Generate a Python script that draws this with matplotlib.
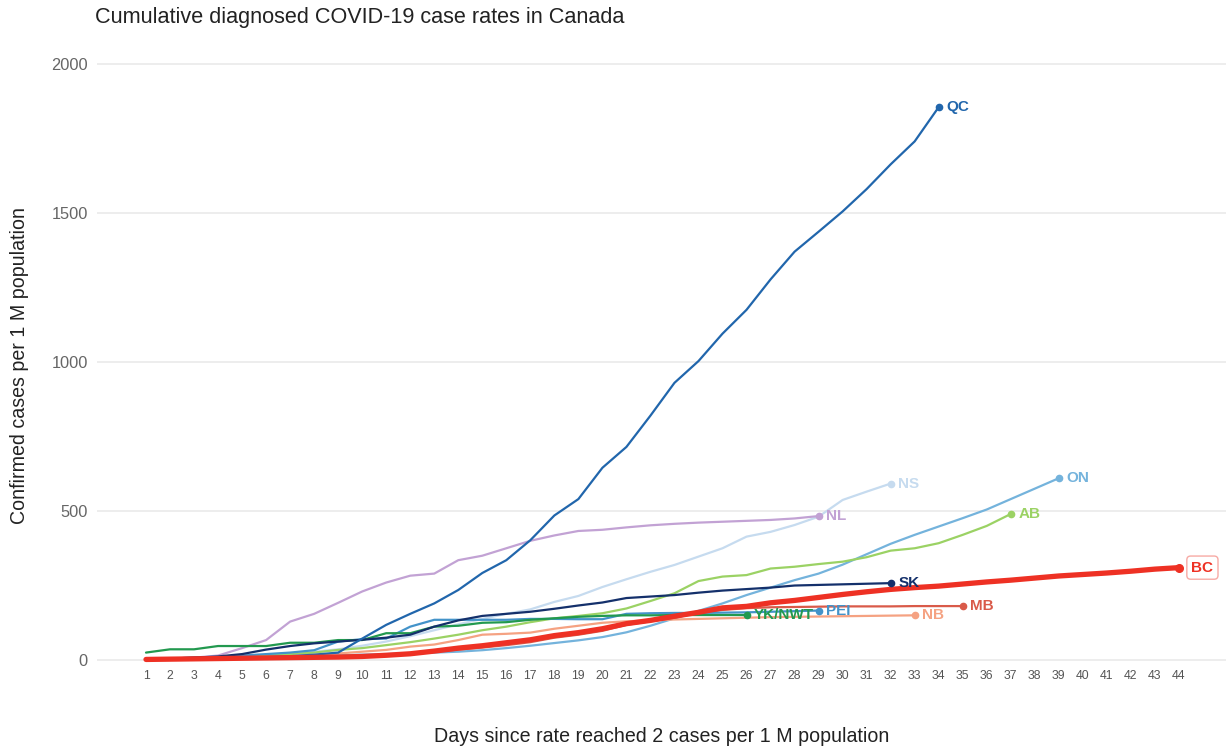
import matplotlib
matplotlib.use("Agg")
import matplotlib.pyplot as plt

plt.rcParams['font.family'] = ['Liberation Sans', 'DejaVu Sans']

# ---- data (cumulative cases per 1 M population, by day since 2 cases / 1 M) ----
QC = [3, 4, 5, 6, 8, 10, 13, 18, 25, 72, 118, 155, 190, 235, 292, 335, 402, 485, 540, 645,
      715, 820, 930, 1003, 1095, 1175, 1277, 1370, 1437, 1505, 1580, 1663, 1740, 1855]
NL = [3, 5, 8, 15, 40, 67, 129, 155, 192, 230, 260, 283, 290, 335, 350, 375, 400, 418, 433,
      437, 445, 452, 457, 461, 464, 467, 470, 475, 483]
NS = [3, 5, 7, 10, 13, 17, 22, 28, 36, 48, 62, 80, 100, 120, 138, 155, 170, 195, 215, 245,
      271, 296, 319, 347, 375, 414, 430, 453, 481, 537, 565, 592]
ON = [3, 4, 5, 6, 8, 10, 12, 14, 16, 18, 20, 22, 25, 28, 33, 40, 48, 57, 66, 77, 93, 115,
      140, 165, 190, 218, 243, 268, 290, 320, 355, 390, 420, 448, 476, 505, 540, 575, 610]
AB = [3, 5, 7, 10, 13, 16, 20, 25, 34, 40, 50, 60, 72, 85, 100, 112, 127, 140, 148, 157,
      173, 198, 224, 265, 280, 285, 307, 313, 322, 330, 345, 367, 375, 392, 420, 450, 490]
SK = [3, 5, 8, 12, 20, 35, 47, 56, 62, 68, 75, 85, 112, 133, 148, 155, 162, 172, 183, 193,
      208, 213, 218, 226, 233, 238, 243, 250, 252, 254, 256, 258]
MB = [2, 3, 4, 5, 6, 7, 8, 10, 12, 14, 17, 22, 28, 35, 42, 50, 60, 75, 85, 98, 118, 130,
      142, 158, 168, 174, 177, 178, 179, 180, 180, 180, 181, 181, 181]
NB = [3, 4, 5, 6, 8, 10, 13, 17, 22, 28, 34, 45, 52, 67, 85, 88, 92, 105, 115, 125, 130,
      133, 136, 138, 140, 142, 144, 145, 146, 147, 148, 149, 150]
YK_NWT = [25, 36, 36, 47, 47, 47, 58, 58, 67, 67, 90, 90, 112, 115, 125, 127, 135, 140,
          145, 148, 150, 150, 151, 151, 151, 151]
PEI = [3, 5, 8, 10, 15, 20, 25, 33, 62, 70, 72, 112, 135, 135, 135, 135, 138, 138, 137,
       137, 155, 157, 158, 158, 159, 160, 162, 164, 166]
BC = [2, 3, 4, 5, 6, 7, 8, 9, 10, 12, 16, 21, 30, 40, 48, 58, 68, 82, 92, 105, 122, 133,
      147, 160, 175, 180, 192, 200, 210, 220, 229, 237, 243, 248, 255, 262, 268, 275, 282,
      287, 292, 298, 305, 310]

series = [
    ("NS", NS, "#c6dbef"),
    ("NL", NL, "#c2a2d4"),
    ("ON", ON, "#74b3dc"),
    ("AB", AB, "#9bd264"),
    ("NB", NB, "#f5a282"),
    ("MB", MB, "#d95a49"),
    ("PEI", PEI, "#4393c9"),
    ("YK/NWT", YK_NWT, "#22994f"),
    ("SK", SK, "#14306b"),
    ("QC", QC, "#2166ac"),
    ("BC", BC, "#ee3124"),
]

x_ticks = list(range(1, 45))
y_ticks = [0, 500, 1000, 1500, 2000]

W, H = 1226, 752
fig = plt.figure(figsize=(W / 100, H / 100), dpi=100)
ax_left, ax_right, ax_top, ax_bot = 97, 1226, 46, 666
ax = fig.add_axes([ax_left / W, 1 - ax_bot / H, (ax_right - ax_left) / W, (ax_bot - ax_top) / H])

for name, vals, col in series:
    days = list(range(1, len(vals) + 1))
    lw = 3.8 if name == "BC" else 1.6
    ax.plot(days, vals, color=col, lw=lw, solid_joinstyle='round', solid_capstyle='round', zorder=3)
    ax.plot([days[-1]], [vals[-1]], 'o', color=col, ms=4.5 if name != "BC" else 5.5, zorder=4)
    kw = {}
    if name == "BC":
        kw['bbox'] = dict(boxstyle='round,pad=0.3,rounding_size=0.25', fc='white', ec='#f7aaa5', lw=1)
        off = 9
    else:
        off = 5.5
    ax.annotate(name, (days[-1], vals[-1]), xytext=(off, 0), textcoords='offset points',
                ha='left', va='center', fontsize=11, fontweight='bold', color=col, zorder=5, **kw)

ax.set_xlim(-1.04, 45.96)
ax.set_ylim(-20, 2060)
ax.set_xticks(x_ticks)
ax.set_xticklabels([str(d) for d in x_ticks])
ax.set_yticks(y_ticks)
ax.set_yticklabels([str(v) for v in y_ticks])
ax.tick_params(axis='x', length=0, pad=3, labelsize=8.8, labelcolor='#555555')
ax.tick_params(axis='y', length=0, pad=6.5, labelsize=11.8, labelcolor='#666666')
ax.grid(axis='y', color='#ececec', lw=1.3, zorder=0)
ax.grid(axis='x', visible=False)
for s in ax.spines.values():
    s.set_visible(False)
ax.set_axisbelow(True)

fig.text(95 / W, 1 - 17 / H, "Cumulative diagnosed COVID-19 case rates in Canada",
         ha='left', va='center', fontsize=15.6, color='#222222')
fig.text(662 / W, 1 - 737 / H, "Days since rate reached 2 cases per 1 M population",
         ha='center', va='center', fontsize=14.1, color='#222222')
fig.text(20 / W, 1 - 366 / H, "Confirmed cases per 1 M population",
         ha='center', va='center', rotation=90, fontsize=14.1, color='#222222')

fig.savefig("out.png", dpi=100, facecolor='white')
